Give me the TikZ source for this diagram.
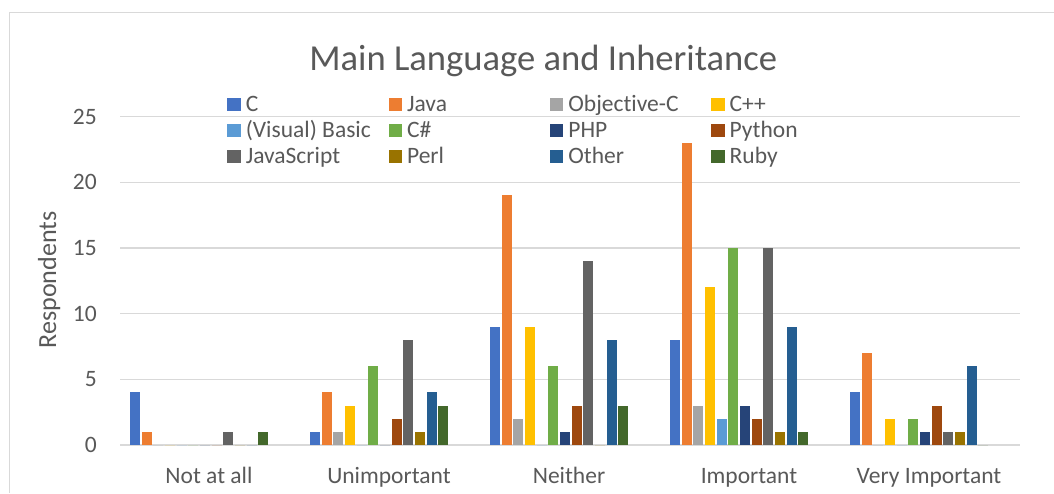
\documentclass[tikz,border=0pt]{standalone}
\usepackage{fontspec}
\setmainfont[Ligatures=NoCommon]{Carlito}
\usetikzlibrary{positioning}
\definecolor{textgray}{HTML}{595959}
\definecolor{rulegray}{HTML}{D9D9D9}
\definecolor{ser0}{HTML}{4472C4}
\definecolor{ser1}{HTML}{ED7D31}
\definecolor{ser2}{HTML}{A5A5A5}
\definecolor{ser3}{HTML}{FFC000}
\definecolor{ser4}{HTML}{5B9BD5}
\definecolor{ser5}{HTML}{70AD47}
\definecolor{ser6}{HTML}{264478}
\definecolor{ser7}{HTML}{9E480E}
\definecolor{ser8}{HTML}{636363}
\definecolor{ser9}{HTML}{997300}
\definecolor{ser10}{HTML}{255E91}
\definecolor{ser11}{HTML}{43682B}

\begin{document}
\begin{tikzpicture}[x=1pt,y=-1pt,
    gridrule/.style={rulegray, line width=1.3pt},
    smalltext/.style={text=textgray, inner sep=0pt, font=\fontsize{23.5}{28}\selectfont},
    axistitle/.style={text=textgray, inner sep=0pt, font=\fontsize{26.1}{31}\selectfont},
    charttitle/.style={text=textgray, inner sep=0pt, font=\fontsize{36.6}{44}\selectfont}]
  \useasboundingbox (0,0) rectangle (1054,493);
  \fill[white] (0,0) rectangle (1054,493);
  % frame of the chart
  \draw[rulegray, line width=1pt] (9,493) -- (9,12.3) -- (1054,12.3);
  \node[charttitle, anchor=base] (title) at (543.3,70.3) {Main Language and Inheritance};

  % value axis
  \foreach \k in {0,...,5} {
    \draw[gridrule] (120,445-65.7*\k) -- (1020,445-65.7*\k);
    \pgfmathtruncatemacro\lab{5*\k}
    \node[smalltext, anchor=east] (tick\k) at (97,445-65.7*\k) {\lab};
  }
  \node[axistitle, rotate=90, anchor=base] (ytitle) at (56,280) {Respondents};

  % bars
  \foreach \name/\vals [count=\j from 0] in {
      Not at all/{4,1,0,0,0,0,0,0,1,0,0,1},
      Unimportant/{1,4,1,3,0,6,0,2,8,1,4,3},
      Neither/{9,19,2,9,0,6,1,3,14,0,8,3},
      Important/{8,23,3,12,2,15,3,2,15,1,9,1},
      Very Important/{4,7,0,2,0,2,1,3,1,1,6,0}} {
    \foreach \v [count=\i from 0] in \vals {
      \fill[ser\i] (130+180*\j+11.67*\i,445) rectangle ++(10,-13.14*\v);
    }
    \node[smalltext, anchor=base] (cat\j) at (209+180*\j,483) {\name};
  }

  % legend
  \foreach \lang [count=\i from 0] in {C,Java,Objective-C,C++,(Visual) Basic,C\#,PHP,Python,JavaScript,Perl,Other,Ruby} {
    \pgfmathtruncatemacro\col{mod(\i,4)}
    \pgfmathtruncatemacro\row{div(\i,4)}
    \fill[ser\i] (227.3+161.3*\col,98+26*\row) rectangle ++(13.3,13.3);
    \node[smalltext, anchor=base west] (key\i) at (245.6+161.3*\col,111.3+26*\row) {\lang};
  }
\end{tikzpicture}
\end{document}
